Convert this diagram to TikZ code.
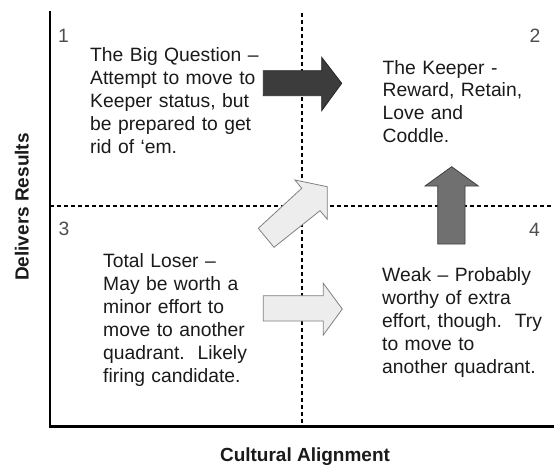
\documentclass[tikz,border=0pt]{standalone}
\usepackage{fontspec}
\setmainfont{Liberation Sans}
\definecolor{numgray}{HTML}{4D4D4D}
\definecolor{textblack}{HTML}{1A1A1A}
\definecolor{arrowdark}{HTML}{3C3C3C}
\definecolor{arrowdarkedge}{HTML}{262626}
\definecolor{arrowmid}{HTML}{707070}
\definecolor{arrowmidedge}{HTML}{404040}
\definecolor{arrowlight}{HTML}{EDEDED}
\definecolor{arrowlightedge}{HTML}{808080}
\begin{document}
\begin{tikzpicture}[x=1pt,y=-1pt,
  body/.style={anchor=base west, inner sep=0pt, text width=170pt, align=left,
    font=\fontsize{19.3}{22.9}\selectfont, text=textblack},
  quadnum/.style={anchor=base west, inner sep=0pt,
    font=\fontsize{19.3}{22.9}\selectfont, text=numgray},
  axislabel/.style={inner sep=0pt, font=\fontsize{19}{22}\selectfont\bfseries, text=textblack},
  axisline/.style={line width=2.3pt, line cap=rect},
  divider/.style={line width=1.2pt, dash pattern=on 4pt off 3pt},
  darkarrow/.style={fill=arrowdark, draw=arrowdarkedge, line width=0.8pt, line join=miter},
  midarrow/.style={fill=arrowmid, draw=arrowmidedge, line width=0.8pt, line join=miter},
  lightarrow/.style={fill=arrowlight, draw=arrowlightedge, line width=0.8pt, line join=miter}
]
\useasboundingbox (0,0) rectangle (554,466);

% quadrant dividers
\draw[divider] (50,206) -- (554,206);
\draw[divider] (302,13) -- (302,426);

% axes
\coordinate (origin) at (50,426.5);
\coordinate (ytop) at (50,12);
\coordinate (xend) at (554,426.5);
\draw[axisline] (ytop) -- (origin) -- (xend);

% axis labels
\node[axislabel, anchor=base] (xlabel) at (305,461.5) {Cultural Alignment};
\node[axislabel, anchor=base, rotate=90] (ylabel) at (28.5,207) {Delivers Results};

% quadrant numbers
\node[quadnum] (n1) at (58,42.7) {1};
\node[quadnum] (n2) at (529.5,42.7) {2};
\node[quadnum] (n3) at (58.5,235.7) {3};
\node[quadnum] (n4) at (529,236) {4};

% quadrant descriptions
\node[body] (q1) at (90,61.7) {The Big Question --\\Attempt to move to\\Keeper status, but\\be prepared to get\\rid of ‘em.};
\node[body] (q2) at (382.5,74) {The Keeper -\\Reward, Retain,\\Love and\\Coddle.};
\node[body] (q3) at (103,267.7) {Total Loser --\\May be worth a\\minor effort to\\move to another\\quadrant.\ \ Likely\\firing candidate.};
\node[body] (q4) at (382,281.7) {Weak -- Probably\\worthy of extra\\effort, though.\ \ Try\\to move to\\another quadrant.};

% block arrows
\draw[darkarrow] (263.3,70.7) -- (321.7,70.7) -- (321.7,57.3) -- (341.7,83.3)
  -- (321.7,110.7) -- (321.7,95.7) -- (263.3,95.7) -- cycle;
\draw[midarrow] (437.7,244) -- (437.7,186) -- (425,186) -- (451.7,166.7)
  -- (478.3,186) -- (465,186) -- (465,244) -- cycle;
\draw[lightarrow] (263.3,295.7) -- (323.3,295.7) -- (323.3,283.3) -- (342.3,309)
  -- (323.3,335) -- (323.3,321) -- (263.3,321) -- cycle;
\draw[lightarrow] (258.3,228.3) -- (301.7,188.3) -- (295,180) -- (327.3,186.7)
  -- (327.3,219.3) -- (320,210.7) -- (274,247.3) -- cycle;
\end{tikzpicture}
\end{document}
